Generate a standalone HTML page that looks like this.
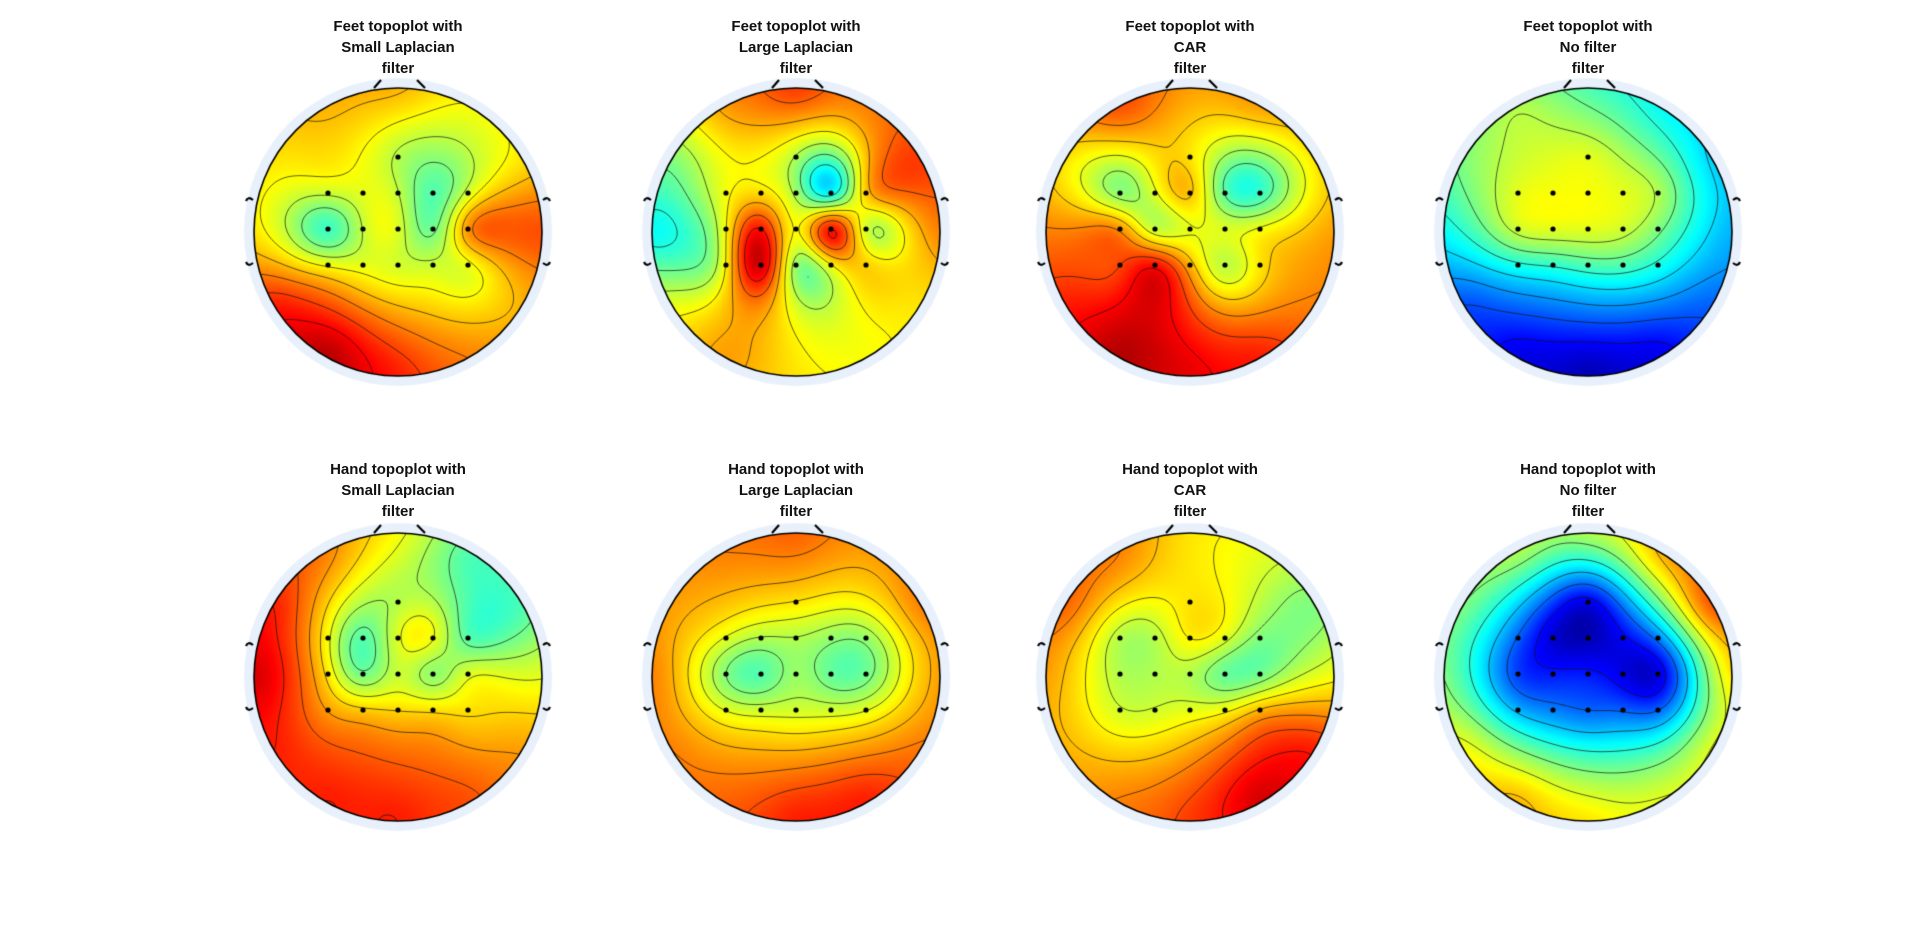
<!DOCTYPE html>
<html><head><meta charset="utf-8"><style>
body{margin:0;width:1920px;height:936px;background:#fff;overflow:hidden;font-family:"Liberation Sans",Arial,sans-serif;position:relative}
.t{position:absolute;width:300px;text-align:center;font-weight:bold;font-size:15px;line-height:21px;color:#111}
canvas{position:absolute}
</style></head><body>
<script>
// electrode order: top, row2 (5, L->R), row3 (5), row4 (5)
// rim order: angles clockwise from top: 0,30,...,330
const feetSmallElectrodes=[0.55,0.58,0.6,0.57,0.45,0.58,0.42,0.57,0.6,0.47,0.75,0.62,0.6,0.58,0.58,0.6];
const feetSmallRim=[0.7,0.62,0.65,0.8,0.7,0.75,0.85,0.95,0.85,0.65,0.65,0.7];
const feetLargeElectrodes=[0.55,0.62,0.65,0.55,0.33,0.7,0.62,0.88,0.6,0.92,0.55,0.62,0.95,0.5,0.62,0.68];
const feetLargeRim=[0.82,0.75,0.82,0.75,0.65,0.62,0.65,0.72,0.6,0.38,0.5,0.72];
const feetCarElectrodes=[0.65,0.5,0.6,0.7,0.45,0.42,0.75,0.55,0.6,0.6,0.62,0.8,0.88,0.7,0.55,0.65];
const feetCarRim=[0.72,0.72,0.65,0.72,0.75,0.85,0.9,0.95,0.85,0.75,0.65,0.8];
const feetNoneElectrodes=[0.6,0.6,0.62,0.62,0.6,0.55,0.58,0.6,0.6,0.58,0.5,0.4,0.42,0.45,0.45,0.4];
const feetNoneRim=[0.45,0.38,0.33,0.3,0.22,0.1,0.05,0.1,0.2,0.38,0.5,0.55];
const handSmallElectrodes=[0.55,0.62,0.45,0.6,0.62,0.45,0.65,0.48,0.58,0.5,0.6,0.72,0.68,0.66,0.66,0.65];
const handSmallRim=[0.62,0.45,0.45,0.6,0.72,0.8,0.85,0.85,0.85,0.92,0.85,0.75];
const handLargeElectrodes=[0.65,0.6,0.55,0.55,0.52,0.52,0.5,0.45,0.53,0.47,0.48,0.6,0.58,0.58,0.58,0.6];
const handLargeRim=[0.78,0.72,0.75,0.72,0.76,0.85,0.85,0.78,0.75,0.75,0.72,0.75];
const handCarElectrodes=[0.65,0.55,0.55,0.64,0.6,0.5,0.55,0.55,0.55,0.47,0.48,0.58,0.58,0.6,0.62,0.7];
const handCarRim=[0.65,0.6,0.5,0.62,0.85,0.92,0.82,0.75,0.7,0.72,0.78,0.75];
const handNoneElectrodes=[0.1,0.22,0.08,0.05,0.12,0.25,0.18,0.15,0.15,0.1,0.08,0.3,0.25,0.22,0.22,0.22];
const handNoneRim=[0.55,0.7,0.8,0.65,0.6,0.6,0.65,0.7,0.62,0.5,0.5,0.55];
const titles=[["Feet topoplot with","Small Laplacian","filter"],["Feet topoplot with","Large Laplacian","filter"],["Feet topoplot with","CAR","filter"],["Feet topoplot with","No filter","filter"],["Hand topoplot with","Small Laplacian","filter"],["Hand topoplot with","Large Laplacian","filter"],["Hand topoplot with","CAR","filter"],["Hand topoplot with","No filter","filter"]];
const plots=[[feetSmallElectrodes,feetSmallRim],[feetLargeElectrodes,feetLargeRim],[feetCarElectrodes,feetCarRim],[feetNoneElectrodes,feetNoneRim],[handSmallElectrodes,handSmallRim],[handLargeElectrodes,handLargeRim],[handCarElectrodes,handCarRim],[handNoneElectrodes,handNoneRim]];
const names=['feet-small-laplacian','feet-large-laplacian','feet-car','feet-no-filter','hand-small-laplacian','hand-large-laplacian','hand-car','hand-no-filter'];

const R=144, CXS=[398,796,1190,1588], CYS=[232,677], TY=[16,459];
function elecPos(){const p=[[0,-75]];[-39,-3,33].forEach(y=>{[-70,-35,0,35,70].forEach(x=>p.push([x,y]))});return p;}
function jet(v){v=Math.max(0,Math.min(1,v));const c=x=>Math.round(255*Math.max(0,Math.min(1,1.5-Math.abs(x))));return [c(4*v-3),c(4*v-2),c(4*v-1)];}
function solve(A,b){const n=b.length;for(let i=0;i<n;i++){let m=i;for(let k=i+1;k<n;k++)if(Math.abs(A[k][i])>Math.abs(A[m][i]))m=k;[A[i],A[m]]=[A[m],A[i]];[b[i],b[m]]=[b[m],b[i]];for(let k=i+1;k<n;k++){const f=A[k][i]/A[i][i];for(let j=i;j<n;j++)A[k][j]-=f*A[i][j];b[k]-=f*b[i];}}const x=new Array(n).fill(0);for(let i=n-1;i>=0;i--){let s=b[i];for(let j=i+1;j<n;j++)s-=A[i][j]*x[j];x[i]=s/A[i][i];}return x;}

plots.forEach((pd,i)=>{
  const cx=CXS[i%4], cy=CYS[Math.floor(i/4)];
  const t=document.createElement('div');t.className='t';
  
  
  t.style.left=(cx-150)+'px';t.style.top=TY[Math.floor(i/4)]+'px';
  t.innerHTML=titles[i].join('<br>');document.body.appendChild(t);
  const S=340,o=S/2;
  const cv=document.createElement('canvas');cv.width=S;cv.height=S;
  cv.style.left=(cx-o)+'px';cv.style.top=(cy-o)+'px';
  
  
  document.body.appendChild(cv);
  const g=cv.getContext('2d');
  const pts=[];const ep=elecPos();
  pd[0].forEach((v,k)=>pts.push([ep[k][0],ep[k][1],v]));
  pd[1].forEach((v,k)=>{const a=k*Math.PI/6;pts.push([R*Math.sin(a),-R*Math.cos(a),v]);});
  const n=pts.length;const C2=45*45;
  const phi=(d2)=>1/Math.sqrt(d2+C2);
  const A=[],b=[];
  for(let p=0;p<n;p++){const row=[];for(let q=0;q<n;q++){row.push(phi((pts[p][0]-pts[q][0])**2+(pts[p][1]-pts[q][1])**2)+(p==q?0.0005:0));}row.push(1);A.push(row);b.push(pts[p][2]);}
  const last=[];for(let q=0;q<n;q++)last.push(1);last.push(0);A.push(last);b.push(0);
  const w=solve(A,b);
  function f(x,y){let s=w[n];for(let p=0;p<n;p++)s+=w[p]*phi((x-pts[p][0])**2+(y-pts[p][1])**2);return s;}
  g.fillStyle='#e8f1fb';g.beginPath();g.arc(o,o,R+10,0,7);g.fill();
  const img=g.getImageData(0,0,S,S);
  for(let y=0;y<S;y++)for(let x=0;x<S;x++){const dx=x-o+0.5,dy=y-o+0.5;if(dx*dx+dy*dy>R*R)continue;const c=jet(f(dx,dy));const k=(y*S+x)*4;img.data[k]=c[0];img.data[k+1]=c[1];img.data[k+2]=c[2];img.data[k+3]=255;}
  g.putImageData(img,0,0);
  const st=3,N=Math.ceil(2*R/st)+2,grid=[];let mn=9,mx=-9;
  for(let j=0;j<=N;j++){grid.push([]);for(let q=0;q<=N;q++){const X=-R-3+q*st,Y=-R-3+j*st;const v=f(X,Y);grid[j].push(v);if(X*X+Y*Y<=(R-4)*(R-4)){mn=Math.min(mn,v);mx=Math.max(mx,v);}}}
  g.save();g.beginPath();g.arc(o,o,R,0,7);g.clip();
  g.strokeStyle='rgba(20,20,20,0.85)';g.lineWidth=0.8;g.beginPath();
  for(let L=1;L<=7;L++){const lv=mn+(mx-mn)*L/8;
    for(let j=0;j<N;j++)for(let q=0;q<N;q++){
      const a=grid[j][q],bb=grid[j][q+1],c=grid[j+1][q+1],d=grid[j+1][q];
      const X=q*st-R-3+o,Y=j*st-R-3+o;const e=[];
      const it=(v1,v2)=>(lv-v1)/(v2-v1);
      if((a<lv)!=(bb<lv))e.push([X+it(a,bb)*st,Y]);
      if((bb<lv)!=(c<lv))e.push([X+st,Y+it(bb,c)*st]);
      if((d<lv)!=(c<lv))e.push([X+it(d,c)*st,Y+st]);
      if((a<lv)!=(d<lv))e.push([X,Y+it(a,d)*st]);
      for(let m=0;m+1<e.length;m+=2){g.moveTo(e[m][0],e[m][1]);g.lineTo(e[m+1][0],e[m+1][1]);}
    }}
  g.stroke();g.restore();
  g.strokeStyle='#000';g.lineWidth=1.6;g.beginPath();g.arc(o,o,R,0,7);g.stroke();
  g.lineWidth=2.2;g.beginPath();g.moveTo(o-24,o-R);g.lineTo(o-17,o-R-8);g.moveTo(o+19,o-R-8);g.lineTo(o+27,o-R);g.stroke();
  [-1,1].forEach(sd=>{[-36,35].forEach(ey=>{g.beginPath();const ex=o+sd*R;g.moveTo(ex+sd*8,ey+o+(ey<0?5:-5));g.quadraticCurveTo(ex+sd*6,ey+o,ex+sd*1,ey+o+(ey<0?4:-4));g.stroke();});});
  g.fillStyle='#000';ep.forEach(p=>{g.beginPath();g.arc(o+p[0],o+p[1],2.6,0,7);g.fill();});
});
</script>
</body></html>
